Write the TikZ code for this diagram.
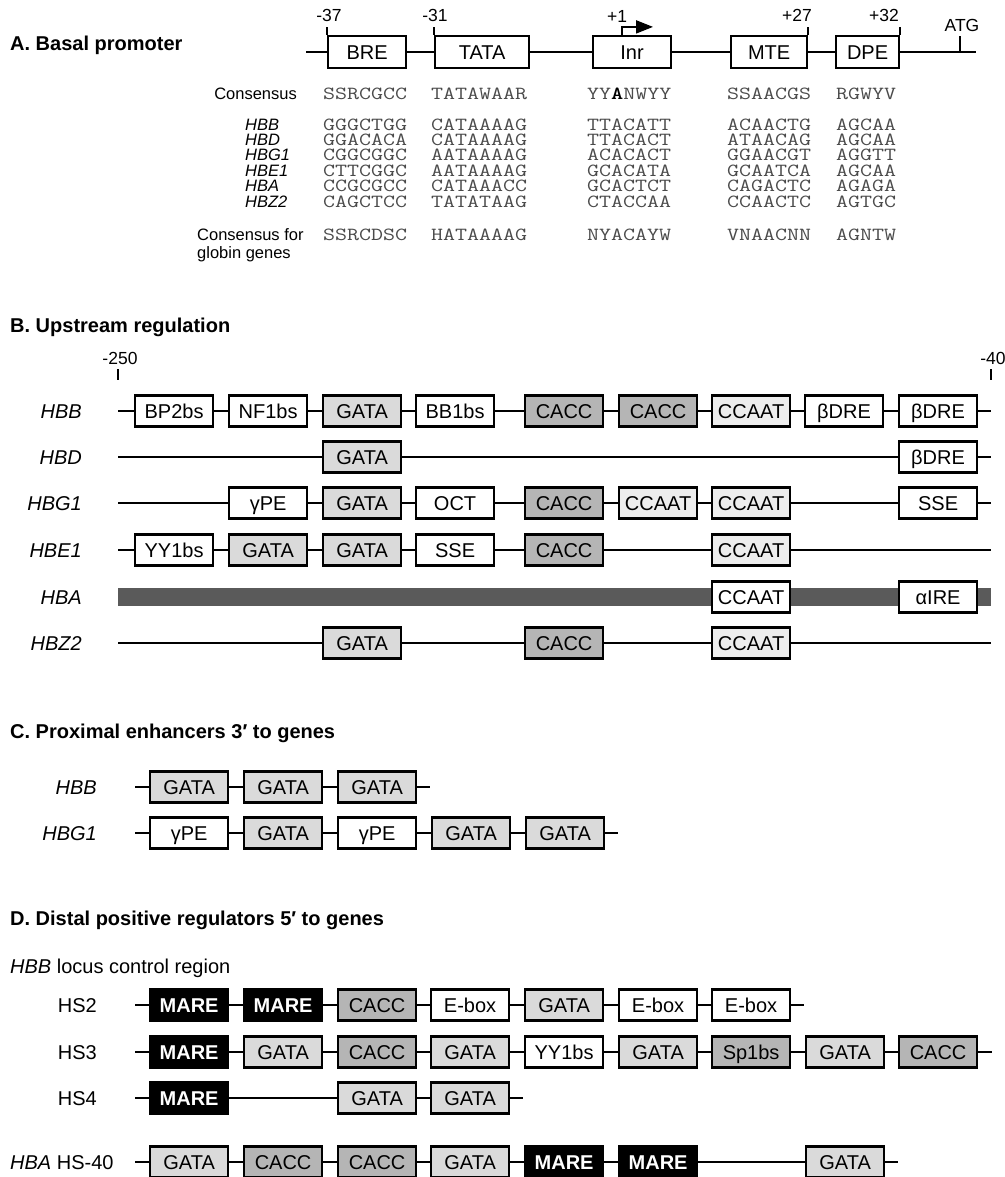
\documentclass[tikz,border=0pt]{standalone}
\usepackage{fontspec}
\setmainfont{Liberation Sans}
\usetikzlibrary{arrows.meta}
\definecolor{gatag}{HTML}{DADADA}
\definecolor{caccg}{HTML}{B5B5B5}
\definecolor{ccaatg}{HTML}{EDEDED}
\definecolor{hbabar}{HTML}{5A5A5A}
\definecolor{seqg}{HTML}{4A4A4A}
\newcommand\seqs[1]{\scalebox{1.26}[1]{#1}}
\begin{document}
\begin{tikzpicture}[x=1pt,y=-1pt,
  bb/.style={line width=1.8pt},
  bx/.style={draw=black,line width=2.2pt,minimum width=78pt,minimum height=31pt,inner sep=0pt,anchor=west,text height=14.2pt,text depth=0pt,font=\fontsize{20}{20}\selectfont},
  wb/.style={bx,fill=white},
  gb/.style={bx,fill=gatag},
  cb/.style={bx,fill=caccg},
  qb/.style={bx,fill=ccaatg},
  mb/.style={bx,fill=black,text=white,font=\bfseries\fontsize{20}{20}\selectfont},
  ttl/.style={anchor=west,inner sep=0pt,font=\bfseries\fontsize{20}{20}\selectfont},
  gl/.style={anchor=east,inner sep=0pt,text height=14.2pt,text depth=0pt,font=\itshape\fontsize{20}{20}\selectfont},
  rl/.style={anchor=east,inner sep=0pt,text height=14.2pt,text depth=0pt,font=\fontsize{20}{20}\selectfont},
  numl/.style={inner sep=0pt,font=\fontsize{17.5}{17.5}\selectfont},
  sl/.style={inner sep=0pt,font=\fontsize{16.5}{16.5}\selectfont},
  agl/.style={anchor=west,inner sep=0pt,text height=11.5pt,text depth=0pt,font=\itshape\fontsize{16.5}{16.5}\selectfont},
  sq/.style={anchor=west,inner sep=0pt,text height=11pt,text depth=0pt,text=seqg,font=\ttfamily\fontsize{18.5}{18.5}\selectfont},
]
\useasboundingbox (0,0) rectangle (1004,1177);

% ---------------- A ----------------
\node[ttl] (tA) at (10,45) {A. Basal promoter};
\coordinate (aS) at (306,52);
\coordinate (aE) at (976,52);
\draw[bb] (aS) -- (aE);
\node[wb,minimum width=78pt,minimum height=32pt] (bre) at (327,52) {BRE};
\node[wb,minimum width=94pt,minimum height=32pt] (tata) at (434,52) {TATA};
\node[wb,minimum width=78pt,minimum height=32pt] (inr) at (592,52) {Inr};
\node[wb,minimum width=76pt,minimum height=32pt] (mte) at (730,52) {MTE};
\node[wb,minimum width=63pt,minimum height=32pt] (dpe) at (835,52) {DPE};
\draw[bb] (bre.north west) -- ++(0,-8);
\draw[bb] (tata.north west) -- ++(0,-8);
\draw[bb] (mte.north east) -- ++(0,-8);
\draw[bb] (dpe.north east) -- ++(0,-8);
\coordinate (atg) at (960,52);
\draw[bb] (atg) -- ++(0,-16);
\draw[bb,-{Triangle[length=17pt,width=13pt]}] ([xshift=30pt]inr.north west) -- ++(0,-8) -- ++(31,0);
\node[numl] (n37) at (329,15) {-37};
\node[numl] (n31) at (435,15) {-31};
\node[numl] (n1) at (617,16) {+1};
\node[numl] (n27) at (797,15) {+27};
\node[numl] (n32) at (884,15) {+32};
\node[numl] (natg) at (962,25) {ATG};

\node[sl,anchor=east] (lcons) at (297,94) {Consensus};
\node[agl] (aHBB) at (245,125) {HBB};
\node[agl] (aHBD) at (245,140) {HBD};
\node[agl] (aHBG1) at (245,155) {HBG1};
\node[agl] (aHBE1) at (245,171) {HBE1};
\node[agl] (aHBA) at (245,186) {HBA};
\node[agl] (aHBZ2) at (245,202) {HBZ2};
\node[sl,anchor=west] (lcg1) at (197,235) {Consensus for};
\node[sl,anchor=west] (lcg2) at (197,254) {globin genes};

\node[sq] (s01) at (323,94) {\seqs{SSRCGCC}};
\node[sq] (s02) at (431,94) {\seqs{TATAWAAR}};
\node[sq] (s03) at (587,94) {\seqs{YY{\color{black}\bfseries A}NWYY}};
\node[sq] (s04) at (727,94) {\seqs{SSAACGS}};
\node[sq] (s05) at (836,94) {\seqs{RGWYV}};

\node[sq] (s11) at (323,125) {\seqs{GGGCTGG}};
\node[sq] (s12) at (431,125) {\seqs{CATAAAAG}};
\node[sq] (s13) at (587,125) {\seqs{TTACATT}};
\node[sq] (s14) at (727,125) {\seqs{ACAACTG}};
\node[sq] (s15) at (836,125) {\seqs{AGCAA}};

\node[sq] (s21) at (323,140) {\seqs{GGACACA}};
\node[sq] (s22) at (431,140) {\seqs{CATAAAAG}};
\node[sq] (s23) at (587,140) {\seqs{TTACACT}};
\node[sq] (s24) at (727,140) {\seqs{ATAACAG}};
\node[sq] (s25) at (836,140) {\seqs{AGCAA}};

\node[sq] (s31) at (323,155) {\seqs{CGGCGGC}};
\node[sq] (s32) at (431,155) {\seqs{AATAAAAG}};
\node[sq] (s33) at (587,155) {\seqs{ACACACT}};
\node[sq] (s34) at (727,155) {\seqs{GGAACGT}};
\node[sq] (s35) at (836,155) {\seqs{AGGTT}};

\node[sq] (s41) at (323,171) {\seqs{CTTCGGC}};
\node[sq] (s42) at (431,171) {\seqs{AATAAAAG}};
\node[sq] (s43) at (587,171) {\seqs{GCACATA}};
\node[sq] (s44) at (727,171) {\seqs{GCAATCA}};
\node[sq] (s45) at (836,171) {\seqs{AGCAA}};

\node[sq] (s51) at (323,186) {\seqs{CCGCGCC}};
\node[sq] (s52) at (431,186) {\seqs{CATAAACC}};
\node[sq] (s53) at (587,186) {\seqs{GCACTCT}};
\node[sq] (s54) at (727,186) {\seqs{CAGACTC}};
\node[sq] (s55) at (836,186) {\seqs{AGAGA}};

\node[sq] (s61) at (323,202) {\seqs{CAGCTCC}};
\node[sq] (s62) at (431,202) {\seqs{TATATAAG}};
\node[sq] (s63) at (587,202) {\seqs{CTACCAA}};
\node[sq] (s64) at (727,202) {\seqs{CCAACTC}};
\node[sq] (s65) at (836,202) {\seqs{AGTGC}};

\node[sq] (s71) at (323,235) {\seqs{SSRCDSC}};
\node[sq] (s72) at (431,235) {\seqs{HATAAAAG}};
\node[sq] (s73) at (587,235) {\seqs{NYACAYW}};
\node[sq] (s74) at (727,235) {\seqs{VNAACNN}};
\node[sq] (s75) at (836,235) {\seqs{AGNTW}};

% ---------------- B ----------------
\node[ttl] (tB) at (10,327) {B. Upstream regulation};
\coordinate (m250) at (118,369);
\draw[bb] (m250) -- ++(0,11);
\node[numl] (n250) at (120,358) {-250};
\coordinate (m40) at (991,369);
\draw[bb] (m40) -- ++(0,11);
\node[numl] (n40) at (993,358) {-40};

% HBB
\node[gl] (lbHBB) at (82,411) {HBB};
\coordinate (b1s) at (118,411); \coordinate (b1e) at (991,411);
\draw[bb] (b1s) -- (b1e);
\node[wb] (b11) at (134,411) {BP2bs};
\node[wb] (b12) at (228,411) {NF1bs};
\node[gb] (b13) at (322,411) {GATA};
\node[wb] (b14) at (415,411) {BB1bs};
\node[cb] (b15) at (524,411) {CACC};
\node[cb] (b16) at (618,411) {CACC};
\node[qb] (b17) at (711,411) {CCAAT};
\node[wb] (b18) at (804,411) {βDRE};
\node[wb] (b19) at (898,411) {βDRE};

% HBD
\node[gl] (lbHBD) at (82,457) {HBD};
\coordinate (b2s) at (118,457); \coordinate (b2e) at (991,457);
\draw[bb] (b2s) -- (b2e);
\node[gb] (b23) at (322,457) {GATA};
\node[wb] (b29) at (898,457) {βDRE};

% HBG1
\node[gl] (lbHBG1) at (82,503) {HBG1};
\coordinate (b3s) at (118,503); \coordinate (b3e) at (991,503);
\draw[bb] (b3s) -- (b3e);
\node[wb] (b32) at (228,503) {γPE};
\node[gb] (b33) at (322,503) {GATA};
\node[wb] (b34) at (415,503) {OCT};
\node[cb] (b35) at (524,503) {CACC};
\node[qb] (b36) at (618,503) {CCAAT};
\node[qb] (b37) at (711,503) {CCAAT};
\node[wb] (b39) at (898,503) {SSE};

% HBE1
\node[gl] (lbHBE1) at (82,550) {HBE1};
\coordinate (b4s) at (118,550); \coordinate (b4e) at (991,550);
\draw[bb] (b4s) -- (b4e);
\node[wb] (b41) at (134,550) {YY1bs};
\node[gb] (b42) at (228,550) {GATA};
\node[gb] (b43) at (322,550) {GATA};
\node[wb] (b44) at (415,550) {SSE};
\node[cb] (b45) at (524,550) {CACC};
\node[qb] (b47) at (711,550) {CCAAT};

% HBA
\node[gl] (lbHBA) at (82,597) {HBA};
\coordinate (b5s) at (118,597); \coordinate (b5e) at (991,597);
\draw[line width=18pt,hbabar] (b5s) -- (b5e);
\node[wb] (b57) at (711,597) {CCAAT};
\node[wb] (b59) at (898,597) {αIRE};

% HBZ2
\node[gl] (lbHBZ2) at (82,643) {HBZ2};
\coordinate (b6s) at (118,643); \coordinate (b6e) at (991,643);
\draw[bb] (b6s) -- (b6e);
\node[gb] (b63) at (322,643) {GATA};
\node[cb] (b65) at (524,643) {CACC};
\node[qb] (b67) at (711,643) {CCAAT};

% ---------------- C ----------------
\node[ttl] (tC) at (10,733) {C. Proximal enhancers 3′ to genes};
\node[gl] (lcHBB) at (97,787) {HBB};
\coordinate (c1s) at (135,787); \coordinate (c1e) at (430,787);
\draw[bb] (c1s) -- (c1e);
\node[gb] (c11) at (149,787) {GATA};
\node[gb] (c12) at (243,787) {GATA};
\node[gb] (c13) at (337,787) {GATA};

\node[gl] (lcHBG1) at (97,833) {HBG1};
\coordinate (c2s) at (135,833); \coordinate (c2e) at (618,833);
\draw[bb] (c2s) -- (c2e);
\node[wb] (c21) at (149,833) {γPE};
\node[gb] (c22) at (243,833) {GATA};
\node[wb] (c23) at (337,833) {γPE};
\node[gb] (c24) at (431,833) {GATA};
\node[gb] (c25) at (525,833) {GATA};

% ---------------- D ----------------
\node[ttl] (tD) at (10,920) {D. Distal positive regulators 5′ to genes};
\node[anchor=west,inner sep=0pt,font=\fontsize{20}{20}\selectfont] (dsub) at (10,968) {\textit{HBB} locus control region};

% HS2
\node[rl] (lHS2) at (97,1005) {HS2};
\coordinate (d1s) at (135,1005); \coordinate (d1e) at (804,1005);
\draw[bb] (d1s) -- (d1e);
\node[mb] (d11) at (149,1005) {MARE};
\node[mb] (d12) at (243,1005) {MARE};
\node[cb] (d13) at (337,1005) {CACC};
\node[wb] (d14) at (430,1005) {E-box};
\node[gb] (d15) at (524,1005) {GATA};
\node[wb] (d16) at (618,1005) {E-box};
\node[wb] (d17) at (711,1005) {E-box};

% HS3
\node[rl] (lHS3) at (97,1052) {HS3};
\coordinate (d2s) at (135,1052); \coordinate (d2e) at (992,1052);
\draw[bb] (d2s) -- (d2e);
\node[mb] (d21) at (149,1052) {MARE};
\node[gb] (d22) at (243,1052) {GATA};
\node[cb] (d23) at (337,1052) {CACC};
\node[gb] (d24) at (430,1052) {GATA};
\node[wb] (d25) at (524,1052) {YY1bs};
\node[gb] (d26) at (618,1052) {GATA};
\node[cb] (d27) at (711,1052) {Sp1bs};
\node[gb] (d28) at (805,1052) {GATA};
\node[cb] (d29) at (898,1052) {CACC};

% HS4
\node[rl] (lHS4) at (97,1098) {HS4};
\coordinate (d3s) at (135,1098); \coordinate (d3e) at (523,1098);
\draw[bb] (d3s) -- (d3e);
\node[mb] (d31) at (149,1098) {MARE};
\node[gb] (d33) at (337,1098) {GATA};
\node[gb] (d34) at (430,1098) {GATA};

% HBA HS-40
\node[anchor=west,inner sep=0pt,text height=14.2pt,text depth=0pt,font=\fontsize{20}{20}\selectfont] (lHS40) at (10,1162) {\textit{HBA} HS-40};
\coordinate (d4s) at (135,1162); \coordinate (d4e) at (898,1162);
\draw[bb] (d4s) -- (d4e);
\node[gb] (d41) at (149,1162) {GATA};
\node[cb] (d42) at (243,1162) {CACC};
\node[cb] (d43) at (337,1162) {CACC};
\node[gb] (d44) at (430,1162) {GATA};
\node[mb] (d45) at (524,1162) {MARE};
\node[mb] (d46) at (618,1162) {MARE};
\node[gb] (d48) at (805,1162) {GATA};
\end{tikzpicture}
\end{document}
